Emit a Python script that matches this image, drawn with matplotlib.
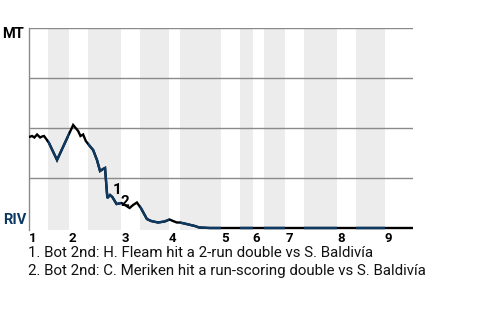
import matplotlib
matplotlib.use("Agg")
import matplotlib.pyplot as plt
from matplotlib.patches import Rectangle

plt.rcParams['font.family'] = ['Roboto', 'DejaVu Sans']

# ---- data ----
# start of each half-inning on a 0-100 game-progress scale (top 1, bot 1, top 2, ...)
half_starts = [0, 4.9, 10.4, 15.4, 24.0, 28.9, 36.5, 39.3, 50.0, 54.9,
               58.3, 61.2, 66.7, 71.6, 80.2, 85.2, 92.7]
game_end = 100
inning_labels = ['1', '2', '3', '4', '5', '6', '7', '8', '9']

# MT win probability through the game
progress = [0.0, 0.8, 1.4, 2.1, 2.9, 3.4, 3.9, 4.4, 5.2, 7.3, 11.5, 12.8, 13.4,
            14.1, 14.8, 15.6, 16.7, 17.7, 18.5, 19.3, 19.8, 20.4, 21.1, 21.7,
            22.8, 24.1, 25.0, 26.2, 27.1, 28.1, 29.2, 30.7, 31.8, 33.6, 35.3,
            36.6, 37.5, 38.5, 39.3, 41.0, 43.2, 44.3, 47.1, 100.0]
wp_mt = [0.455, 0.46, 0.4525, 0.4675, 0.4525, 0.4575, 0.46, 0.4475, 0.425,
         0.34, 0.515, 0.485, 0.46, 0.4675, 0.435, 0.415, 0.39, 0.34, 0.285,
         0.295, 0.30, 0.15, 0.165, 0.155, 0.12, 0.125, 0.115, 0.10, 0.115,
         0.1275, 0.0975, 0.045, 0.035, 0.0275, 0.0325, 0.0425, 0.035, 0.0275,
         0.0275, 0.02, 0.01, 0.0025, 0.0, 0.0]

event_index = [21, 24]
event_labels = ['1', '2']
event_notes = ['1. Bot 2nd: H. Fleam hit a 2-run double vs S. Baldivía',
               '2. Bot 2nd: C. Meriken hit a run-scoring double vs S. Baldivía']
teams = ['MT', 'RIV']

# ---- style ----
BLUE = '#0c3862'
BAND = '#ececec'
GRID = '#8a8a8a'

fig = plt.figure(figsize=(4.8, 3.2), dpi=100)
ax = fig.add_axes([29 / 480, 90 / 320, 384 / 480, 202 / 320])
ax.set_xlim(0, game_end)
ax.set_ylim(-0.01, 1.0)

bounds = half_starts + [game_end]
# bottom halves shaded
for i in range(1, len(half_starts), 2):
    ax.axvspan(bounds[i], bounds[i + 1], color=BAND, lw=0, zorder=0)

for g in [0.25, 0.5, 0.75, 1.0]:
    ax.axhline(g, color=GRID, lw=1.0, zorder=1)

# line: black (MT batting), blue clipped to bottom halves (RIV batting)
LW = 1.7
ax.plot(progress, wp_mt, color='black', lw=LW, zorder=3,
        solid_joinstyle='miter')
for i in range(1, len(half_starts), 2):
    rect = Rectangle((bounds[i], -0.05), bounds[i + 1] - bounds[i], 1.1,
                     transform=ax.transData, visible=False)
    ax.add_patch(rect)
    ln, = ax.plot(progress, wp_mt, color=BLUE, lw=LW, zorder=4,
                  solid_joinstyle='miter')
    ln.set_clip_path(rect)

# event labels
offsets = [(3.5, 6), (2.5, 1.5)]
for idx, lab, off in zip(event_index, event_labels, offsets):
    ax.annotate(lab, (progress[idx], wp_mt[idx]), xytext=off,
                textcoords='offset points', ha='left', va='center',
                fontsize=11, fontweight='bold', color='black', zorder=6)

# axes styling
for s in ['top', 'right', 'bottom']:
    ax.spines[s].set_visible(False)
ax.spines['left'].set_color(GRID)
ax.spines['left'].set_linewidth(1.0)
ax.set_yticks([])
top_starts = half_starts[0::2]
ax.set_xticks(top_starts)
ax.set_xticklabels(inning_labels, fontweight='bold', fontsize=9.5, ha='left')
ax.tick_params(axis='x', length=0, pad=1.5)

# team labels
fig.text(2 / 480, 1 - 34 / 320, teams[0], fontsize=10.5, fontweight='bold',
         color='black', ha='left', va='center')
fig.text(3 / 480, 1 - 219.5 / 320, teams[1], fontsize=10.5, fontweight='bold',
         color=BLUE, ha='left', va='center')

# footnotes
for k, note in enumerate(event_notes):
    fig.text(28 / 480, 1 - (253 + 18 * k) / 320, note, fontsize=10.8,
             color='#111111', ha='left', va='center')

fig.savefig('out.png', dpi=100)
